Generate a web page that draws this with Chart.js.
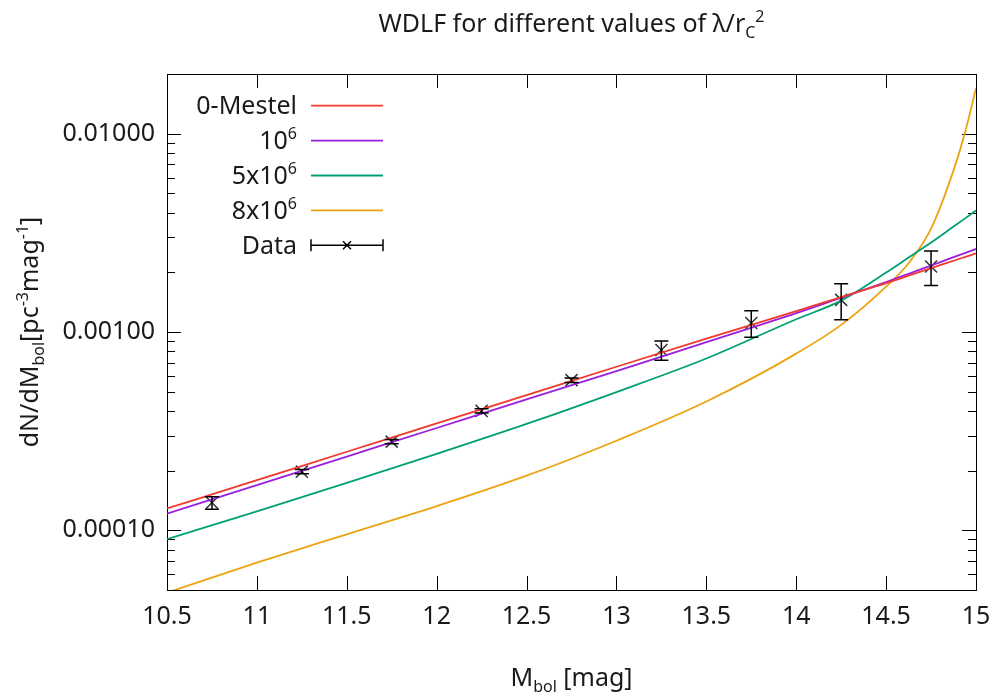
<!DOCTYPE html>
<html>
<head>
<meta charset="utf-8">
<script src="https://cdn.jsdelivr.net/npm/chart.js@4.4.1/dist/chart.umd.min.js"></script>
<style>
  body { margin: 0; background: #fff; }
</style>
</head>
<body>
<canvas id="wdlf-chart" width="995" height="693"></canvas>
<script>
const FONT = '"Noto Sans", "Open Sans", sans-serif';
const FONT_SIZE = 25;
const SMALL_SIZE = 16;

// model curves (M_bol -> dN/dM_bol)
const curveMbol = [10.5, 11, 11.5, 12, 12.5, 13, 13.5, 14, 14.25, 14.5, 14.625, 14.75, 14.875, 14.9375, 15];
const mestel   = [1.288e-4, 1.79e-4, 2.49e-4, 3.46e-4, 4.81e-4, 6.68e-4, 9.25e-4, 1.274e-3, 1.50e-3, 1.763e-3, 1.923e-3, 2.10e-3, 2.287e-3, 2.388e-3, 2.494e-3];
const lambda1e6 = [1.213e-4, 1.69e-4, 2.355e-4, 3.28e-4, 4.57e-4, 6.35e-4, 8.88e-4, 1.245e-3, 1.49e-3, 1.787e-3, 1.965e-3, 2.164e-3, 2.384e-3, 2.50e-3, 2.624e-3];
const lambda5e6 = [9.03e-5, 1.245e-4, 1.734e-4, 2.43e-4, 3.44e-4, 4.98e-4, 7.35e-4, 1.16e-3, 1.439e-3, 1.993e-3, 2.373e-3, 2.825e-3, 3.40e-3, 3.73e-3, 4.10e-3];
const lambda8e6 = [4.845e-5, 6.87e-5, 9.55e-5, 1.324e-4, 1.885e-4, 2.83e-4, 4.46e-4, 7.78e-4, 1.086e-3, 1.694e-3, 2.222e-3, 3.32e-3, 6.53e-3, 1.0035e-2, 1.695e-2];

// observed points with errors
const dataMbol    = [10.75, 11.25, 11.75, 12.25, 12.75, 13.25, 13.75, 14.25, 14.75];
const dataDensity = [1.378e-4, 1.976e-4, 2.80e-4, 4.00e-4, 5.72e-4, 8.11e-4, 1.110e-3, 1.452e-3, 2.138e-3];
const dataError   = [0.10e-4, 0.05e-4, 0.07e-4, 0.10e-4, 0.15e-4, 0.9e-4, 1.7e-4, 3.0e-4, 4.2e-4];

const xTicks = [10.5, 11, 11.5, 12, 12.5, 13, 13.5, 14, 14.5, 15];
const yTicks = [0.0001, 0.001, 0.01];
const yMinorFactors = [2, 3, 4, 5, 6, 7, 8, 9];

const seriesLabels = ['0-Mestel', '10^{6}', '5x10^{6}', '8x10^{6}', 'Data'];
const seriesColors = ['#f0382c', '#9a1fe0', '#00a077', '#eca310', '#000000'];
const titleText = 'WDLF for different values of λ/r_{C}^{2}';
const xTitle = 'M_{bol} [mag]';
const yTitle = 'dN/dM_{bol}[pc^{-3}mag^{-1}]';

// text with ^{..} and _{..} drawn as raised / lowered smaller text
function drawRich(ctx, str, x, y, align) {
  const parts = [];
  const re = /([_^])\{([^}]*)\}|([^_^]+)/g;
  let m;
  while ((m = re.exec(str))) {
    if (m[3]) parts.push({ text: m[3], shift: 0 });
    else parts.push({ text: m[2], shift: m[1] === '^' ? -10 : 6 });
  }
  let width = 0;
  parts.forEach(p => {
    ctx.font = (p.shift ? SMALL_SIZE : FONT_SIZE) + 'px ' + FONT;
    p.w = ctx.measureText(p.text).width;
    width += p.w;
  });
  let cx = align === 'right' ? x - width : align === 'center' ? x - width / 2 : x;
  ctx.textAlign = 'left';
  ctx.textBaseline = 'alphabetic';
  parts.forEach(p => {
    ctx.font = (p.shift ? SMALL_SIZE : FONT_SIZE) + 'px ' + FONT;
    ctx.fillText(p.text, cx, y + p.shift);
    cx += p.w;
  });
}

const frameAndTicks = {
  id: 'frameAndTicks',
  beforeDatasetsDraw(chart) {
    const { ctx, chartArea: a, scales: { x, y } } = chart;
    ctx.save();
    ctx.strokeStyle = '#000';
    ctx.lineWidth = 1;
    ctx.beginPath();
    xTicks.forEach(v => {
      const px = Math.round(x.getPixelForValue(v)) + 0.5;
      ctx.moveTo(px, a.bottom); ctx.lineTo(px, a.bottom - 14);
      ctx.moveTo(px, a.top); ctx.lineTo(px, a.top + 14);
    });
    yTicks.forEach(v => {
      const py = Math.round(y.getPixelForValue(v)) + 0.5;
      ctx.moveTo(a.left, py); ctx.lineTo(a.left + 14, py);
      ctx.moveTo(a.right, py); ctx.lineTo(a.right - 14, py);
    });
    [1e-5, 1e-4, 1e-3, 1e-2].forEach(dec => {
      yMinorFactors.forEach(f => {
        const v = f * dec;
        if (v <= y.min || v >= y.max) return;
        const py = Math.round(y.getPixelForValue(v)) + 0.5;
        ctx.moveTo(a.left, py); ctx.lineTo(a.left + 8, py);
        ctx.moveTo(a.right, py); ctx.lineTo(a.right - 8, py);
      });
    });
    ctx.stroke();
    ctx.strokeRect(Math.round(a.left) + 0.5, Math.round(a.top) + 0.5,
      Math.round(a.width), Math.round(a.height));
    ctx.restore();
  },
  afterDatasetsDraw(chart) {
    const { ctx, scales: { x, y } } = chart;
    ctx.save();
    ctx.strokeStyle = '#000';
    ctx.lineWidth = 1.5;
    ctx.beginPath();
    dataMbol.forEach((m, i) => {
      const px = x.getPixelForValue(m);
      const top = y.getPixelForValue(dataDensity[i] + dataError[i]);
      const bot = y.getPixelForValue(dataDensity[i] - dataError[i]);
      ctx.moveTo(px, top); ctx.lineTo(px, bot);
      ctx.moveTo(px - 7, top); ctx.lineTo(px + 7, top);
      ctx.moveTo(px - 7, bot); ctx.lineTo(px + 7, bot);
    });
    ctx.stroke();
    ctx.restore();
  },
  afterDraw(chart) {
    const { ctx, chartArea: a } = chart;
    const mid = (a.left + a.right) / 2;
    ctx.save();
    ctx.fillStyle = '#1a1a1a';
    drawRich(ctx, titleText, mid, 32, 'center');
    drawRich(ctx, xTitle, mid, 686, 'center');
    ctx.save();
    ctx.translate(38, (a.top + a.bottom) / 2);
    ctx.rotate(-Math.PI / 2);
    drawRich(ctx, yTitle, 0, 0, 'center');
    ctx.restore();

    // key, top left
    seriesLabels.forEach((lab, i) => {
      const rowY = 105.7 + i * 34.9;
      ctx.fillStyle = '#1a1a1a';
      drawRich(ctx, lab, 297, rowY + 8.6, 'right');
      ctx.strokeStyle = seriesColors[i];
      ctx.lineWidth = i === 4 ? 1.5 : 1.8;
      ctx.beginPath();
      ctx.moveTo(311, rowY); ctx.lineTo(383, rowY);
      if (i === 4) {
        ctx.moveTo(311, rowY - 6); ctx.lineTo(311, rowY + 6);
        ctx.moveTo(383, rowY - 6); ctx.lineTo(383, rowY + 6);
        ctx.moveTo(343, rowY - 4); ctx.lineTo(351, rowY + 4);
        ctx.moveTo(343, rowY + 4); ctx.lineTo(351, rowY - 4);
      }
      ctx.stroke();
    });
    ctx.restore();
  }
};

function curve(ys) {
  return curveMbol.map((m, i) => ({ x: m, y: ys[i] }));
}

const curveStyle = {
  pointRadius: 0,
  borderWidth: 1.8,
  cubicInterpolationMode: 'monotone',
  fill: false
};

new Chart(document.getElementById('wdlf-chart').getContext('2d'), {
  type: 'line',
  data: {
    datasets: [
      { label: seriesLabels[0], data: curve(mestel), borderColor: seriesColors[0], ...curveStyle },
      { label: seriesLabels[1], data: curve(lambda1e6), borderColor: seriesColors[1], ...curveStyle },
      { label: seriesLabels[2], data: curve(lambda5e6), borderColor: seriesColors[2], ...curveStyle },
      { label: seriesLabels[3], data: curve(lambda8e6), borderColor: seriesColors[3], ...curveStyle },
      {
        label: seriesLabels[4],
        data: dataMbol.map((m, i) => ({ x: m, y: dataDensity[i] })),
        showLine: false,
        pointStyle: 'crossRot',
        pointRadius: 8.5,
        pointBorderWidth: 1.5,
        borderColor: '#333333',
        backgroundColor: '#333333'
      }
    ]
  },
  options: {
    responsive: false,
    animation: false,
    devicePixelRatio: 1,
    layout: { padding: { top: 74, right: 19, left: 0, bottom: 0 } },
    plugins: { legend: { display: false }, title: { display: false }, tooltip: { enabled: false } },
    scales: {
      x: {
        type: 'linear',
        min: 10.5,
        max: 15,
        grid: { display: false, drawTicks: false },
        border: { display: false },
        afterBuildTicks: s => { s.ticks = xTicks.map(v => ({ value: v })); },
        afterFit: s => { s.height = 103; s.paddingLeft = 0; s.paddingRight = 0; },
        ticks: {
          padding: 12,
          maxRotation: 0,
          autoSkip: false,
          color: '#1a1a1a',
          font: { family: FONT, size: FONT_SIZE },
          callback: v => String(v)
        }
      },
      y: {
        type: 'logarithmic',
        min: 5e-5,
        max: 0.02,
        grid: { display: false, drawTicks: false },
        border: { display: false },
        afterBuildTicks: s => { s.ticks = yTicks.map(v => ({ value: v })); },
        afterFit: s => { s.width = 167; s.paddingTop = 0; s.paddingBottom = 0; },
        ticks: {
          padding: 12,
          autoSkip: false,
          color: '#1a1a1a',
          font: { family: FONT, size: FONT_SIZE },
          callback: v => Number(v).toFixed(5)
        }
      }
    }
  },
  plugins: [frameAndTicks]
});
</script>
</body>
</html>
